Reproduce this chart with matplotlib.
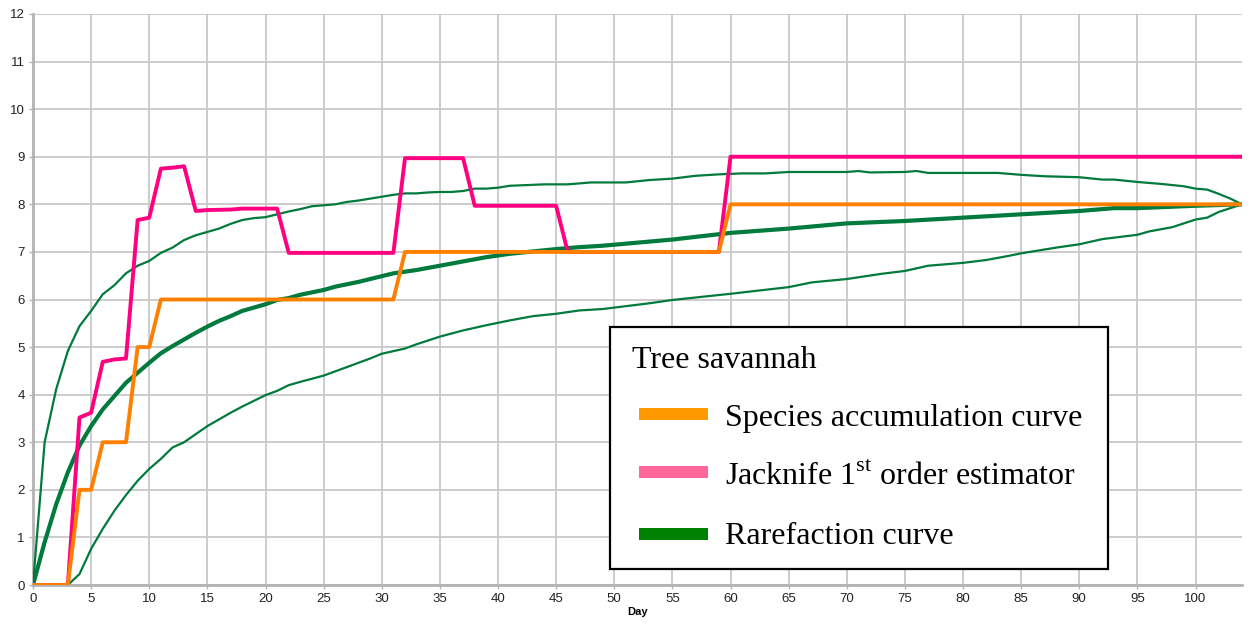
import matplotlib
matplotlib.use("Agg")
import matplotlib.pyplot as plt
from matplotlib.patches import Rectangle

plt.rcParams['font.family'] = ['Liberation Sans', 'DejaVu Sans']
plt.rcParams['mathtext.fontset'] = 'custom'
plt.rcParams['mathtext.rm'] = 'Liberation Serif'

# Species accumulation curve (step breakpoints)
acc_days = [0, 3, 4, 5, 6, 8, 9, 10, 11, 31, 32, 59, 60, 104]
acc_vals = [0, 0, 2, 2, 3, 3, 5, 5, 6, 6, 7, 7, 8, 8]

# Jacknife 1st order estimator
jack_days = [0, 3, 4, 5, 6, 7, 8, 9, 10, 11, 12, 13, 14, 15, 17, 18, 21, 22,
             31, 32, 37, 38, 45, 46, 59, 60, 104]
jack_vals = [0, 0, 3.52, 3.62, 4.69, 4.74, 4.76, 7.67, 7.72, 8.75, 8.77, 8.8,
             7.86, 7.88, 7.89, 7.91, 7.91, 6.98, 6.98, 8.97, 8.97, 7.97, 7.97,
             7.0, 7.0, 9.0, 9.0]

# Rarefaction curve (mean)
rare_days = [0, 1, 2, 3, 4, 5, 6, 7, 8, 9, 10, 11, 12, 13, 14, 15, 16, 17, 18,
             19, 20, 21, 22, 23, 25, 26, 28, 30, 31, 33, 35, 37, 39, 41, 43, 45,
             47, 49, 55, 60, 65, 70, 75, 80, 85, 90, 93, 95, 100, 104]
rare_vals = [0, 0.9, 1.7, 2.37, 2.93, 3.34, 3.69, 3.97, 4.25, 4.46, 4.67, 4.87,
             5.02, 5.16, 5.3, 5.43, 5.55, 5.65, 5.76, 5.83, 5.9, 5.99, 6.03,
             6.1, 6.2, 6.27, 6.37, 6.49, 6.55, 6.62, 6.71, 6.8, 6.89, 6.96,
             7.01, 7.06, 7.1, 7.13, 7.26, 7.4, 7.49, 7.6, 7.65, 7.72, 7.79,
             7.86, 7.92, 7.92, 7.97, 8.0]

# Rarefaction upper bound
upper_days = [0, 1, 2, 3, 4, 5, 6, 7, 8, 9, 10, 11, 12, 13, 14, 15, 16, 17, 18,
              19, 20, 21, 22, 23, 24, 25, 26, 27, 28, 29, 30, 31, 32, 33, 34,
              35, 36, 37, 38, 39, 40, 41, 42, 44, 46, 47, 48, 50, 51, 53, 55,
              57, 59, 61, 63, 65, 70, 71, 72, 75, 76, 77, 83, 85, 87, 90, 92,
              93, 95, 97, 99, 100, 101, 102, 103, 104]
upper_vals = [0, 3.0, 4.12, 4.92, 5.44, 5.76, 6.11, 6.3, 6.55, 6.71, 6.81, 6.98,
              7.09, 7.25, 7.35, 7.42, 7.49, 7.59, 7.67, 7.71, 7.73, 7.79, 7.85,
              7.9, 7.96, 7.98, 8.0, 8.05, 8.08, 8.12, 8.16, 8.2, 8.23, 8.23,
              8.25, 8.26, 8.26, 8.28, 8.33, 8.33, 8.35, 8.39, 8.4, 8.42, 8.42,
              8.44, 8.46, 8.46, 8.46, 8.51, 8.54, 8.6, 8.63, 8.65, 8.65, 8.68,
              8.68, 8.7, 8.67, 8.68, 8.7, 8.66, 8.66, 8.62, 8.59, 8.57, 8.52,
              8.52, 8.47, 8.43, 8.38, 8.33, 8.31, 8.22, 8.12, 8.0]

# Rarefaction lower bound
lower_days = [0, 3, 4, 5, 6, 7, 8, 9, 10, 11, 12, 13, 14, 15, 16, 17, 18, 19,
              20, 21, 22, 23, 25, 27, 29, 30, 32, 33, 35, 37, 39, 41, 43, 45,
              47, 49, 53, 55, 60, 65, 67, 70, 73, 75, 77, 80, 82, 84, 85, 88,
              90, 92, 95, 96, 98, 100, 101, 102, 103, 104]
lower_vals = [0, 0, 0.23, 0.76, 1.18, 1.56, 1.89, 2.19, 2.44, 2.65, 2.89, 3.0,
              3.17, 3.34, 3.48, 3.62, 3.75, 3.87, 3.99, 4.08, 4.2, 4.27, 4.4,
              4.58, 4.76, 4.86, 4.97, 5.06, 5.22, 5.35, 5.46, 5.56, 5.65, 5.7,
              5.77, 5.8, 5.92, 5.99, 6.12, 6.26, 6.36, 6.43, 6.54, 6.6, 6.71,
              6.77, 6.83, 6.92, 6.97, 7.09, 7.16, 7.27, 7.36, 7.43, 7.52, 7.68,
              7.72, 7.84, 7.92, 8.0]

legend_title = "Tree savannah"
legend_labels = ["Species accumulation curve",
                 "Jacknife 1$^{\\mathrm{st}}$ order estimator",
                 "Rarefaction curve"]
legend_colors = ["#ff9900", "#ff6699", "#008000"]

ORANGE = "#ff8000"
PINK = "#ff0080"
GREEN = "#007a3d"

fig = plt.figure(figsize=(12.51, 6.28), dpi=100)
ax = fig.add_axes([33 / 1251, 1 - 585 / 628, (1242 - 33) / 1251, (585 - 14) / 628])

ax.plot(upper_days, upper_vals, color=GREEN, lw=1.6, zorder=3)
ax.plot(lower_days, lower_vals, color=GREEN, lw=1.6, zorder=3)
ax.plot(rare_days, rare_vals, color=GREEN, lw=3.0, zorder=3)
ax.plot(jack_days, jack_vals, color=PINK, lw=2.8, zorder=4)
ax.plot(acc_days, acc_vals, color=ORANGE, lw=2.8, zorder=5)

ax.set_xlim(0, 104)
ax.set_ylim(0, 12)
ax.set_xticks(range(0, 101, 5))
ax.set_yticks(range(0, 13))
ax.grid(True, color="#c8c8c8", lw=1.3)
ax.set_axisbelow(True)
for side in ["top", "right"]:
    ax.spines[side].set_visible(False)
for side in ["left", "bottom"]:
    ax.spines[side].set_color("#b3b3b3")
    ax.spines[side].set_linewidth(2)
ax.tick_params(direction="out", length=3, width=1, color="#b3b3b3",
               labelsize=9.5, labelcolor="#222222", pad=3)
ax.set_xlabel("Day", fontsize=8, fontweight="bold", labelpad=1)

# legend box
W, H = 1251, 628
fig.patches.append(Rectangle((610 / W, 1 - 569 / H), 498 / W, 242 / H,
                             transform=fig.transFigure, facecolor="white",
                             edgecolor="black", lw=1.6, zorder=10))
fig.text(632 / W, 1 - 368 / H, legend_title, family="Liberation Serif",
         fontsize=23, va="baseline", zorder=11)
bar_y = [414, 472, 534]
base_y = [426, 485, 544]
for lab, col, by, ty in zip(legend_labels, legend_colors, bar_y, base_y):
    fig.patches.append(Rectangle((639 / W, 1 - (by + 6) / H), 69 / W, 12 / H,
                                 transform=fig.transFigure, facecolor=col,
                                 edgecolor="none", zorder=11))
    fig.text(725 / W, 1 - ty / H, lab, family="Liberation Serif",
             fontsize=23, va="baseline", zorder=11)

fig.savefig("out.png", dpi=100)
